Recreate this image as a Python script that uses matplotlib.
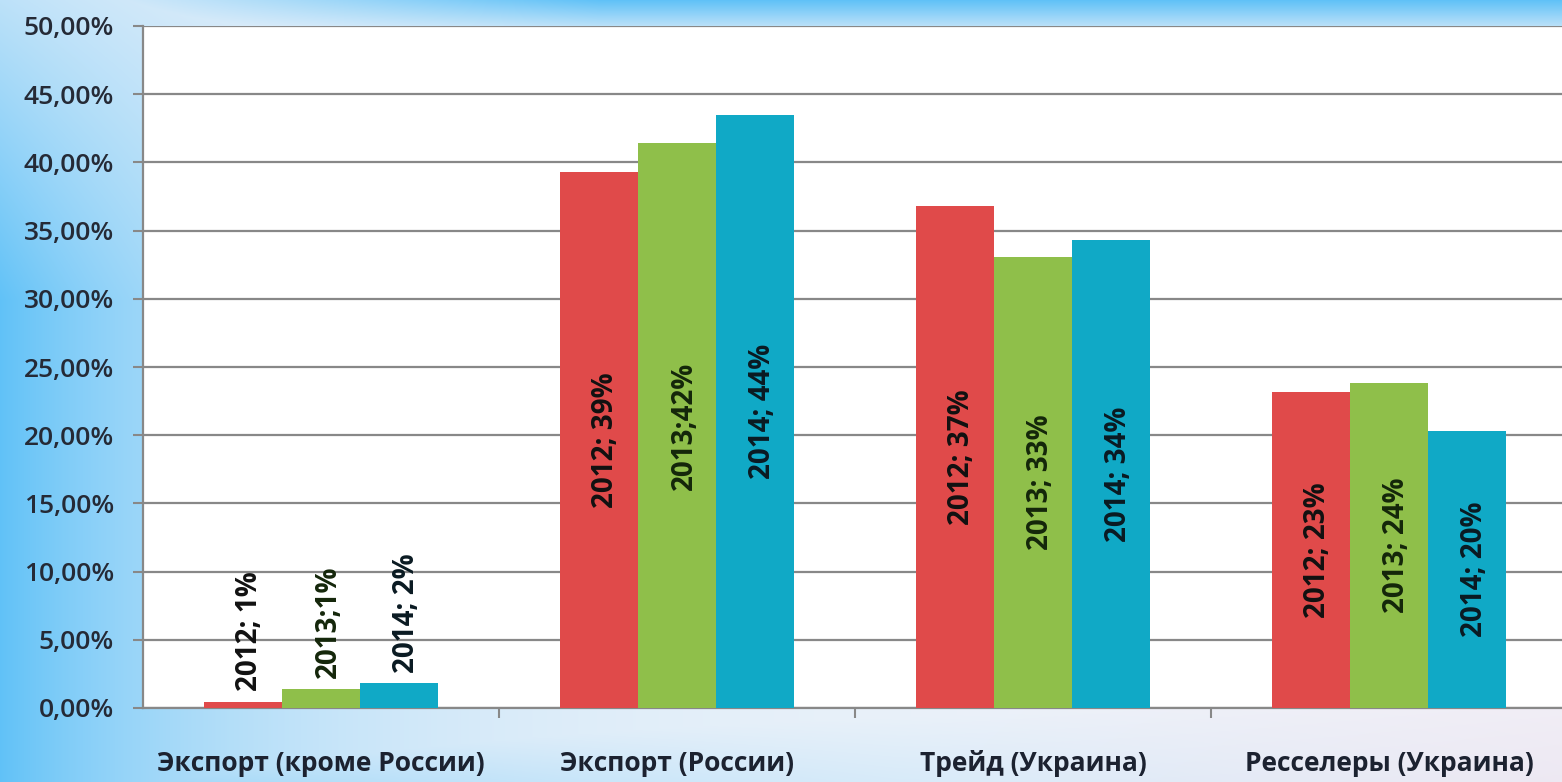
import numpy as np
import matplotlib
matplotlib.use('Agg')
import matplotlib.pyplot as plt
from matplotlib.ticker import FuncFormatter

# data
categories = ['Экспорт (кроме России)', 'Экспорт (России)', 'Трейд (Украина)', 'Ресселеры (Украина)']
years = ['2012', '2013', '2014']
values_2012 = [0.45, 39.3, 36.8, 23.2]
values_2013 = [1.4, 41.4, 33.1, 23.8]
values_2014 = [1.8, 43.5, 34.3, 20.3]
labels_2012 = ['2012; 1%', '2012; 39%', '2012; 37%', '2012; 23%']
labels_2013 = ['2013;1%', '2013;42%', '2013; 33%', '2013; 24%']
labels_2014 = ['2014; 2%', '2014; 44%', '2014; 34%', '2014; 20%']
yticks = [0, 5, 10, 15, 20, 25, 30, 35, 40, 45, 50]

colors = ['#e04a4a', '#8fbf4a', '#10a9c6']
label_colors = ['#111111', '#14260a', '#0a1a22']

plt.rcParams['font.family'] = ['Open Sans', 'DejaVu Sans']

fig = plt.figure(figsize=(15.62, 7.82), dpi=100)

# background gradient
H, W = 782, 1562
yy, xx = np.mgrid[0:H, 0:W]
light = np.array([0.93, 0.95, 0.98])
blue = np.array([0.38, 0.76, 0.97])
pink = np.array([0.96, 0.92, 0.95])
w_left = np.exp(-xx / 260.0) * (0.35 + 0.65 * np.clip(yy / 300.0, 0, 1))
w_top = np.clip(1 - yy / 40.0, 0, 1) * np.clip(xx / 600.0, 0, 1)
w_bot = np.exp(-xx / 600.0) * np.clip((yy - 700) / 82.0, 0, 1) * 0.7
w_blue = np.clip(np.maximum(np.maximum(w_left, w_top), w_bot), 0, 1)[..., None]
w_pink = (np.clip((xx - 900) / 660.0, 0, 1) * np.clip((yy - 600) / 182.0, 0, 1))[..., None]
base = light * (1 - w_pink) + pink * w_pink
bg = base * (1 - w_blue) + blue * w_blue
bgax = fig.add_axes([0, 0, 1, 1])
bgax.imshow(bg, aspect='auto', extent=[0, 1, 0, 1])
bgax.axis('off')

ax = fig.add_axes([143 / 1562, 1 - 708 / 782, 1424 / 1562, 682 / 782])
ax.set_facecolor('white')

x = np.arange(len(categories))
width = 0.22
series = [values_2012, values_2013, values_2014]
labels = [labels_2012, labels_2013, labels_2014]
for k, (vals, labs) in enumerate(zip(series, labels)):
    pos = x + (k - 1) * width
    ax.bar(pos, vals, width, color=colors[k], zorder=3)
    for p, v, t in zip(pos, vals, labs):
        if v < 5:
            ax.text(p + 0.02, v + 0.8, t, rotation=90, ha='center', va='bottom',
                    fontsize=20, fontweight='bold', color=label_colors[k], zorder=4)
        else:
            ax.text(p + 0.02, v / 2, t, rotation=90, ha='center', va='center',
                    fontsize=20, fontweight='bold', color=label_colors[k], zorder=4)

ax.set_xlim(-0.5, len(categories) - 0.5)
ax.set_ylim(0, 50)
ax.set_yticks(yticks)
ax.yaxis.set_major_formatter(FuncFormatter(lambda v, _: f'{v:.2f}'.replace('.', ',') + '%'))
ax.grid(axis='y', color='#888888', linewidth=1.6, zorder=0)
ax.tick_params(axis='y', labelsize=19, colors='#888888', labelcolor='#252a36',
               length=7, width=1.5, pad=14)
for lbl in ax.get_yticklabels():
    lbl.set_fontweight('semibold')

ax.set_xticks(x)
ax.set_xticklabels(categories, fontsize=19, fontweight='bold', color='#1c2230')
ax.set_xticks(np.arange(0.5, len(categories) - 0.5), minor=True)
ax.tick_params(axis='x', which='major', length=0, pad=30)
ax.tick_params(axis='x', which='minor', length=7, width=1.5, color='#888888')

for s in ['top', 'right']:
    ax.spines[s].set_visible(False)
for s in ['left', 'bottom']:
    ax.spines[s].set_color('#888888')
    ax.spines[s].set_linewidth(1.6)

fig.savefig('out.png', dpi=100)
